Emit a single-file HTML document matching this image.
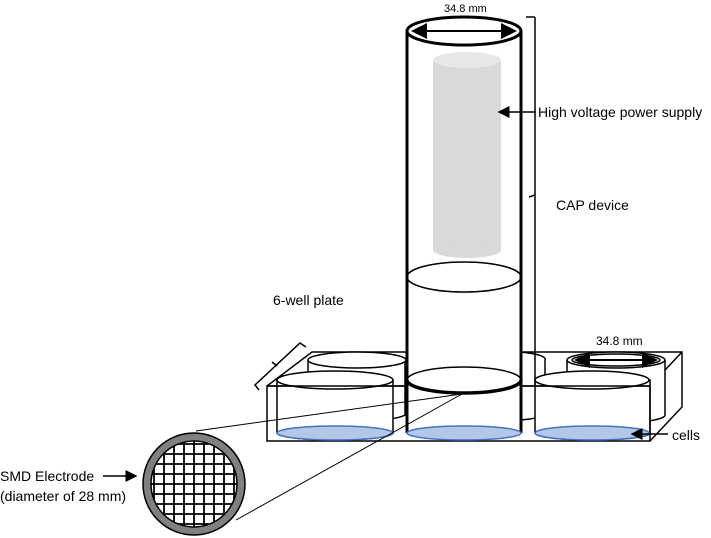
<!DOCTYPE html>
<html><head><style>body{margin:0;background:#fff}svg{display:block;font-family:"Liberation Sans",sans-serif}</style></head>
<body>
<svg width="711" height="538" viewBox="0 0 711 538" xmlns="http://www.w3.org/2000/svg">
<defs><marker id="a" markerWidth="8" markerHeight="8" refX="7" refY="4" orient="auto"><path d="M0,0 L8,4 L0,8z" fill="#000"/></marker></defs>
<g fill="none" stroke="#000" stroke-width="1.5">
<polyline points="267,386 312,352 682,352 682,407 650,441"/>
<line x1="650" y1="386" x2="682" y2="352"/>
</g>
<g fill="#fff" stroke="#000" stroke-width="1.5">
<path d="M308,360 L308,415 A50 8 0 0 0 405 415 L405,360"/>
<ellipse cx="357" cy="360" rx="49" ry="8"/>
<path d="M567,360 L567,415 A49 8 0 0 0 665 415 L665,360"/>
<ellipse cx="616" cy="360" rx="49" ry="8"/>
<ellipse cx="616" cy="360" rx="44" ry="6" fill="none"/>
<path d="M520,352 A45 8 0 0 1 545 360 L545,415 A45 8 0 0 1 520 420" fill="#fff"/>
</g>
<line x1="576" y1="360" x2="656" y2="360" stroke="#000" stroke-width="2" marker-end="url(#a)"/>
<line x1="656" y1="360" x2="576" y2="360" stroke="#000" stroke-width="2" marker-end="url(#a)"/>
<!-- front wells bodies -->
<g stroke="#000" stroke-width="1.5" fill="#fff">
<path d="M277,380 L277,433 A58 7 0 0 0 393 433 L393,380z"/>
<path d="M535,380 L535,433 A57 7 0 0 0 650 433 L650,380z"/>
</g>
<rect x="267" y="386" width="383" height="55" fill="none" stroke="#000" stroke-width="1.5"/>
<line x1="535" y1="17" x2="535" y2="386" stroke="#000" stroke-width="1.5"/>
<path d="M526,17 L535,17 M535,195 L529,197" stroke="#000" stroke-width="1.5" fill="none"/>
<g stroke="#000" stroke-width="1.5">
<ellipse cx="335" cy="380" rx="58" ry="9" fill="#fff"/>
<ellipse cx="335" cy="433" rx="58" ry="7" fill="#b4c7e7" stroke="#4472c4"/>
<ellipse cx="592" cy="380" rx="57" ry="9" fill="#fff"/>
<ellipse cx="592" cy="433" rx="57" ry="7" fill="#b4c7e7" stroke="#4472c4"/>
</g>
<line x1="267" y1="386" x2="650" y2="386" stroke="#000" stroke-width="1.5"/>
<g stroke="#000">
<rect x="407" y="31" width="114" height="404" fill="#fff" stroke="none"/>
<rect x="433" y="60" width="68" height="190" fill="#d9d9d9" stroke="none"/>
<ellipse cx="467" cy="60" rx="34" ry="8" fill="#e7e7e7" stroke="none"/>
<ellipse cx="467" cy="250" rx="34" ry="8" fill="#d9d9d9" stroke="none"/>
<line x1="407" y1="31" x2="407" y2="433" stroke-width="3"/>
<line x1="521" y1="31" x2="521" y2="433" stroke-width="3"/>
<ellipse cx="464" cy="31" rx="57" ry="14" fill="none" stroke-width="3"/>
<ellipse cx="464" cy="277" rx="57" ry="15" fill="none" stroke-width="1.5"/>
<path d="M407,380 A57 13 0 0 0 521 380" fill="none" stroke-width="3.5"/>
<path d="M407,380 A57 13 0 0 1 521 380" fill="none" stroke-width="1.5"/>
<ellipse cx="464" cy="433" rx="57" ry="7" fill="#b4c7e7" stroke="#4472c4" stroke-width="1.5"/>
</g>
<line x1="413" y1="31" x2="515" y2="31" stroke="#000" stroke-width="2" marker-end="url(#a)"/>
<line x1="515" y1="31" x2="413" y2="31" stroke="#000" stroke-width="2" marker-end="url(#a)"/>
<line x1="196" y1="431" x2="462" y2="394" stroke="#000" stroke-width="1"/>
<line x1="236" y1="520" x2="462" y2="394" stroke="#000" stroke-width="1"/>
<circle cx="194" cy="484" r="51" fill="#808080" stroke="#000" stroke-width="1.5"/>
<circle cx="194" cy="484" r="43" fill="#fff" stroke="#000" stroke-width="1.5"/>
<clipPath id="c"><circle cx="194" cy="484" r="43"/></clipPath>
<g clip-path="url(#c)" stroke="#000" stroke-width="1.8">
<path d="M154,430V540M164,430V540M174,430V540M184,430V540M194,430V540M204,430V540M214,430V540M224,430V540M234,430V540M140,444H250M140,454H250M140,464H250M140,474H250M140,484H250M140,494H250M140,504H250M140,514H250M140,524H250"/>
</g>
<path d="M259,390 L255,385 L300,343 L306,347 M277,366 L272,362" fill="none" stroke="#000" stroke-width="1.5"/>
<line x1="536" y1="112" x2="499" y2="112" stroke="#000" stroke-width="1.5" marker-end="url(#a)"/>
<line x1="668" y1="434" x2="632" y2="434" stroke="#000" stroke-width="1.5" marker-end="url(#a)"/>
<line x1="103" y1="476" x2="136" y2="476" stroke="#000" stroke-width="1.5" marker-end="url(#a)"/>
<g font-size="14" fill="#000">
<text x="444" y="12" font-size="11">34.8 mm</text>
<text x="538" y="117">High voltage power supply</text>
<text x="556" y="210">CAP device</text>
<text x="273" y="305">6-well plate</text>
<text x="596" y="345" font-size="12">34.8 mm</text>
<text x="672" y="440">cells</text>
<text x="0" y="481">SMD Electrode</text>
<text x="0" y="501">(diameter of 28 mm)</text>
</g>
</svg>
</body></html>
